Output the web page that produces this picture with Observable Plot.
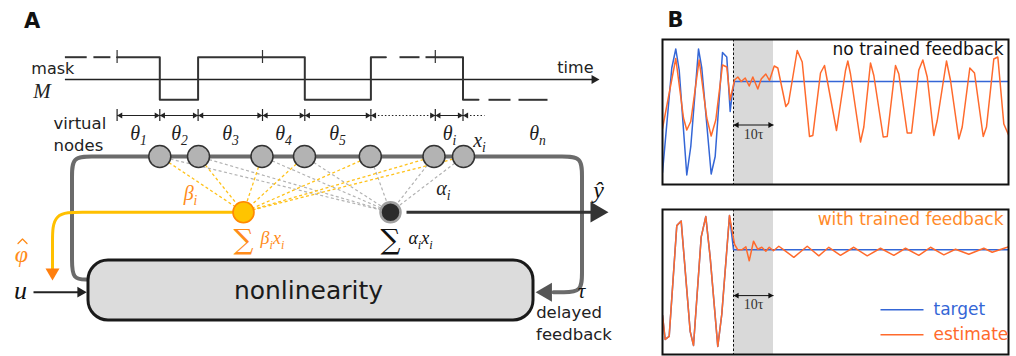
<!DOCTYPE html>
<html><head><meta charset="utf-8">
<script src="https://cdn.jsdelivr.net/npm/d3@7"></script>
<script src="https://cdn.jsdelivr.net/npm/@observablehq/plot@0.6"></script>
<style>
body{margin:0;background:#fff;}
#fig{position:relative;width:1016px;height:356px;overflow:hidden;font-family:"DejaVu Sans",sans-serif;}
#fig svg{position:absolute;overflow:visible;}
</style></head><body><div id="fig"></div>
<script>
// ================= Panel B data =================
// t: time in units of the delay τ (0 = end of training), v: signal relative to the constant target level
const topTarget = [[-17.75,-1.82],[-15.43,0.27],[-14.43,0.65],[-13.58,0.23],[-11.68,-1.87],[-10.68,-1.30],[-8.75,0.65],[-7.93,0.27],[-5.58,-1.85],[-4.58,-1.50],[-2.75,0.58],[-1.68,0.49],[-0.83,-0.60],[-0.25,-0.20],[0.25,0],[68.75,0]];
const topEstimate = [[-17.75,-0.94],[-14.43,0.46],[-12.5,-0.73],[-11.68,-0.97],[-10.68,-0.80],[-8.58,0.43],[-6.68,-0.73],[-5.58,-1.09],[-4.43,-0.77],[-2.75,0.33],[-1.68,0.29],[-0.83,-0.37],[0.25,0.03],[1.08,0.09],[1.93,0],[2.93,0.07],[3.93,-0.09],[4.83,0.09],[6.08,-0.15],[6.93,0.05],[8.08,0.15],[9.0,0.02],[10.18,0.31],[11.08,0.27],[13.08,-0.5],[13.75,-0.43],[15.93,0.62],[17.18,0.39],[19.0,-1.1],[19.83,-1.08],[21.75,0.17],[22.75,0.32],[25.75,-0.98],[28.0,0.22],[28.58,0.41],[29.25,0.15],[31.75,-1.21],[32.58,-0.91],[34.25,0.37],[35.08,0.12],[37.43,-1.11],[38.43,-1.1],[40.5,0.32],[41.33,0.15],[43.43,-1.03],[44.5,-1.03],[46.33,0.23],[47.33,0.43],[48.43,0.09],[50.08,-1.08],[50.93,-0.78],[53.25,0.41],[54.25,0.02],[56.33,-1.15],[57.18,-0.91],[59.08,0.27],[60.25,0.17],[62.43,-1.1],[63.25,-0.91],[65.08,0.45],[66.08,0.49],[67.58,-0.85],[68.83,-1.08]];
const bottomTarget = [[-17.75,-1.3],[-17.08,-1.78],[-16.08,-1.72],[-14.18,0.48],[-13.08,0.57],[-10.83,-1.62],[-10.0,-1.9],[-8.08,0.25],[-6.93,0.66],[-5.83,-0.15],[-3.93,-1.92],[-2.93,-1.28],[-1.0,0.68],[0,0],[68.75,0]];
const bottomEstimate = [[-17.75,-1.3],[-17.08,-1.78],[-16.08,-1.72],[-14.18,0.48],[-13.08,0.57],[-10.83,-1.62],[-10.0,-1.9],[-8.08,0.25],[-6.93,0.66],[-5.83,-0.15],[-3.93,-1.92],[-2.93,-1.28],[-1.0,0.68],[0.25,0.11],[1.08,0],[2.08,0],[3.08,0.06],[3.93,-0.22],[5.0,0.17],[6.08,0.01],[7.08,0.05],[8.08,-0.03],[8.93,0.05],[10.0,-0.02],[11.33,0.07],[12.58,0],[15.08,-0.15],[18.43,0.07],[21.33,-0.12],[23.83,0.05],[26.75,-0.11],[30.08,0.05],[33.43,-0.12],[36.75,0.03],[40.08,-0.11],[43.0,0.03],[46.33,-0.11],[49.25,0.05],[52.58,-0.1],[55.5,0.01],[58.83,-0.09],[62.58,0.03],[64.68,-0.05],[68.43,0.05],[68.75,0.06]];
const shadeWindow = [{start: 0, end: 10, label: "10τ"}];   // 10 delays after training ends
const legendItems = [{name: "target", key: "blue"}, {name: "estimate", key: "orange"}];
const panelTitles = ["no trained feedback", "with trained feedback"];

// ================= Panel A (schematic) geometry =================
const maskSolid = [
  [[116.6,56.7],[159.3,56.7],[159.3,99.3],[197.6,99.3],[197.6,56.7],[304.3,56.7],[304.3,99.3],[370.4,99.3],[370.4,56.7],[385.4,56.7]],
  [[434.8,56.7],[462.5,56.7],[462.5,99.3],[478,99.3]]
];
const maskDashes = [[64.4,86.2,56.7],[92.9,109.9,56.7],[399,419,56.7],[425,434.8,56.7],[488,510,99.3],[518,547,99.3]];
const maskTicks = [116.6, 262, 434.8];
const thetaTicks = [116.6,159.3,197.6,262,304.3,370.4,434.8,462.5];
const thetaLabels = [[138,"θ_1"],[179,"θ_2"],[230,"θ_3"],[283,"θ_4"],[337,"θ_5"],[449,"θ_i"],[537,"θ_n"]];
const nodeX = [159.3,198,261.5,304,369.8,433.5,463];
const loopPath = [[88,279],[71.5,279],[71.5,259],[71.5,239],[71.5,196],[71.5,176],[71.5,156],[91.5,156],[111.5,156],[541.5,156],[561.5,156],[581.5,156],[581.5,176],[581.5,196],[581.5,251.7],[581.5,271.7],[581.5,291.7],[561.5,291.7],[553,291.7]];
const phiPath = [[232,211.7],[112,211.7],[82,211.7],[52,211.7],[52,241.7],[52,268]];
const phiHat = [[17.5,243],[22,238.5],[26.5,243]];
const sumNodes = {beta: [243, 211.7], alpha: [390, 211.7]};
const arrowHeads = [
  {x:593.7, y:79, r:3.4, rotate:90, color:"#222"},
  {x:596, y:211.7, r:7.7, rotate:90, color:"#333"},
  {x:546, y:291.7, r:7, rotate:-90, color:"#555"},
  {x:52, y:272, r:5.2, rotate:180, color:"#ff7f0e"},
  {x:80, y:291.7, r:4, rotate:90, color:"#222"}
];

const SERIF = "Liberation Serif";
const ORANGE_TXT = "#ff8c1a";
const BLUE = "#3466d6", ORANGE = "#ff6a2c";
const HEAD_R = 2.2, HEAD_OFF = 2 * 0.7776 * HEAD_R;   // small double-arrow heads

const spans = d3.pairs(thetaTicks).map(([a,b],i) => ({a, b, dotted: i === 5}));
const maskPts = maskSolid.flatMap((seg,i) => seg.map(p => ({x:p[0], y:p[1], seg:i})));

const fig = document.getElementById("fig");

const A = Plot.plot({
  width: 1016, height: 356, margin: 0,
  x: {type:"linear", domain:[0,1016], range:[0,1016], axis:null},
  y: {type:"linear", domain:[0,356], range:[0,356], axis:null},
  style: {background:"none", overflow:"visible", fontFamily:"DejaVu Sans"},
  marks: [
    // panel letters
    Plot.text(["A"], {x:31.6, y:21, text:d=>d, fontSize:21, fontWeight:"bold", fill:"#111"}),
    Plot.text(["B"], {x:675, y:20, text:d=>d, fontSize:21, fontWeight:"bold", fill:"#111"}),
    // time axis and mask
    Plot.link([[64.4,595]], {x1:d=>d[0], x2:d=>d[1], y1:79, y2:79, stroke:"#222", strokeWidth:1.3}),
    Plot.line(maskPts, {x:"x", y:"y", z:"seg", stroke:"#333", strokeWidth:2}),
    Plot.link(maskDashes, {x1:d=>d[0], x2:d=>d[1], y1:d=>d[2], y2:d=>d[2], stroke:"#333", strokeWidth:2}),
    Plot.ruleX(maskTicks, {x:d=>d, y1:50, y2:63, stroke:"#333", strokeWidth:1.2}),
    // theta spacing arrows
    Plot.ruleX(thetaTicks, {x:d=>d, y1:109, y2:121, stroke:"#222", strokeWidth:1.2}),
    Plot.link(spans.filter(d=>!d.dotted), {x1:"a", x2:"b", y1:115, y2:115, stroke:"#222", strokeWidth:1}),
    Plot.link(spans.filter(d=>d.dotted), {x1:"a", x2:"b", y1:115, y2:115, stroke:"#222", strokeWidth:1, strokeDasharray:"1.5,2"}),
    Plot.link([[462.5,484]], {x1:d=>d[0], x2:d=>d[1], y1:115, y2:115, stroke:"#222", strokeWidth:1, strokeDasharray:"1.5,2"}),
    Plot.dot(spans, {x:"a", y:115, dx:HEAD_OFF, r:HEAD_R, rotate:-90, symbol:"triangle", fill:"#222"}),
    Plot.dot(spans, {x:"b", y:115, dx:-HEAD_OFF, r:HEAD_R, rotate:90, symbol:"triangle", fill:"#222"}),
    Plot.dot([462.5], {x:d=>d, y:115, dx:HEAD_OFF, r:HEAD_R, rotate:-90, symbol:"triangle", fill:"#222"}),
    // text labels
    Plot.text(["mask"], {x:30.8, y:68, text:d=>d, textAnchor:"start", fontSize:16, fill:"#222"}),
    Plot.text(["M"], {x:41.5, y:91, text:d=>d, fontSize:21, fontStyle:"italic", fontFamily:SERIF, fill:"#222"}),
    Plot.text(["time"], {x:593, y:67, text:d=>d, textAnchor:"end", fontSize:16, fill:"#222"}),
    Plot.text(["virtual","nodes"], {x:53, y:(d,i)=>[123.5,145][i], text:d=>d, textAnchor:"start", fontSize:16.5, fill:"#222"}),
    Plot.text(thetaLabels, {x:d=>d[0], y:133, text:d=>d[1], fontSize:20, fontStyle:"italic", fontFamily:SERIF, fill:"#222"}),
    Plot.text(["x_i"], {x:479, y:140, text:d=>d, fontSize:20, fontStyle:"italic", fontFamily:SERIF, fill:"#222"}),
    // feedback loop
    Plot.line(loopPath, {curve:"basis", stroke:"#6b6b6b", strokeWidth:4}),
    // dashed readout connections
    Plot.link(nodeX, {x1:d=>d, y1:156, x2:sumNodes.alpha[0], y2:sumNodes.alpha[1], stroke:"#b3b3b3", strokeWidth:1.2, strokeDasharray:"3,2.5"}),
    Plot.link(nodeX, {x1:d=>d, y1:156, x2:sumNodes.beta[0], y2:sumNodes.beta[1], stroke:"#ffc21a", strokeWidth:1.3, strokeDasharray:"3,2.5"}),
    Plot.dot(nodeX, {x:d=>d, y:156, r:11, fill:"#b3b3b3", stroke:"#333", strokeWidth:1.5}),
    // trained feedback path
    Plot.line(phiPath, {curve:"basis", stroke:"#ffc000", strokeWidth:3}),
    // output arrow
    Plot.link([[406,594]], {x1:d=>d[0], x2:d=>d[1], y1:211.7, y2:211.7, stroke:"#333", strokeWidth:3}),
    Plot.dot([sumNodes.beta], {x:d=>d[0], y:d=>d[1], r:10.5, fill:"#ffc400", stroke:"#ff8800", strokeWidth:1.6}),
    Plot.dot([sumNodes.alpha], {x:d=>d[0], y:d=>d[1], r:10, fill:"#2b2b2b", stroke:"#a0a0a0", strokeWidth:2.5}),
    // nonlinearity box
    Plot.rect([{x1:88,x2:533,y1:260,y2:320}], {x1:"x1", x2:"x2", y1:"y1", y2:"y2", rx:20, ry:20, fill:"#dcdcdc", stroke:"#1a1a1a", strokeWidth:3}),
    Plot.text(["nonlinearity"], {x:308, y:290, text:d=>d, fontSize:25, fill:"#1a1a1a"}),
    // input arrow
    Plot.link([[33,80]], {x1:d=>d[0], x2:d=>d[1], y1:291.7, y2:291.7, stroke:"#222", strokeWidth:2}),
    ...arrowHeads.map(h => Plot.dot([h], {x:"x", y:"y", r:h.r, rotate:h.rotate, fill:h.color, symbol:"triangle"})),
    // math labels
    Plot.text(["β_i"], {x:190, y:193, text:d=>d, fontSize:20, fontStyle:"italic", fontFamily:SERIF, fill:ORANGE_TXT}),
    Plot.text(["α_i"], {x:443, y:188, text:d=>d, fontSize:20, fontStyle:"italic", fontFamily:SERIF, fill:"#222"}),
    Plot.text(["∑"], {x:243, y:240, text:d=>d, fontSize:28, fontFamily:"DejaVu Serif", fill:ORANGE_TXT}),
    Plot.text(["β_ix_i"], {x:272, y:238, text:d=>d, fontSize:18, fontStyle:"italic", fontFamily:SERIF, fill:ORANGE_TXT}),
    Plot.text(["∑"], {x:390, y:240, text:d=>d, fontSize:28, fontFamily:"DejaVu Serif", fill:"#111"}),
    Plot.text(["α_ix_i"], {x:420, y:238, text:d=>d, fontSize:18, fontStyle:"italic", fontFamily:SERIF, fill:"#111"}),
    Plot.text(["ŷ"], {x:598, y:190, text:d=>d, fontSize:24, fontStyle:"italic", fontFamily:SERIF, fill:"#111"}),
    Plot.text(["φ"], {x:21, y:254, text:d=>d, fontSize:24, fontStyle:"italic", fontFamily:SERIF, fill:ORANGE_TXT}),
    Plot.line(phiHat, {stroke:ORANGE_TXT, strokeWidth:1.3}),
    Plot.text(["u"], {x:20, y:290, text:d=>d, fontSize:26, fontStyle:"italic", fontFamily:SERIF, fill:"#111"}),
    Plot.text(["τ"], {x:581, y:291, text:d=>d, fontSize:21, fontStyle:"italic", fontFamily:SERIF, fill:"#111"}),
    Plot.text(["delayed","feedback"], {x:(d,i)=>[568.5,573.5][i], y:(d,i)=>[312.5,334][i], text:d=>d, fontSize:16.5, fill:"#222"})
  ]
});

// turn "a_b" into subscripted tspans
function mathify(svg) {
  const NS = "http://www.w3.org/2000/svg";
  svg.querySelectorAll("text").forEach(t => {
    const s = t.textContent;
    if (!s.includes("_")) return;
    t.textContent = "";
    let i = 0, sub = false;
    while (i < s.length) {
      const ts = document.createElementNS(NS, "tspan");
      if (s[i] === "_") {
        ts.setAttribute("font-size", "68%");
        ts.setAttribute("dy", "5");
        ts.textContent = s[i+1];
        i += 2; sub = true;
      } else {
        if (sub) { ts.setAttribute("dy", "-5"); sub = false; }
        ts.textContent = s[i]; i++;
      }
      t.appendChild(ts);
    }
  });
}
mathify(A);
A.style.left = "0px"; A.style.top = "0px";
fig.appendChild(A);

function panelB({target, estimate, title, titleColor, yDomain, arrowV, labelV, legend}) {
  const marks = [
    Plot.rect(shadeWindow, {x1:"start", x2:"end", fill:"#d9d9d9"}),
    Plot.ruleX(shadeWindow, {x:"start", stroke:"#111", strokeWidth:1, strokeDasharray:"2.5,2"}),
    Plot.line(target, {stroke:BLUE, strokeWidth:1.5, clip:true}),
    Plot.line(estimate, {stroke:ORANGE, strokeWidth:1.5, clip:true}),
    Plot.link(shadeWindow, {x1:"start", x2:"end", y1:arrowV, y2:arrowV, stroke:"#111", strokeWidth:1}),
    Plot.dot(shadeWindow, {x:"start", y:arrowV, dx:HEAD_OFF, r:HEAD_R, rotate:-90, symbol:"triangle", fill:"#111"}),
    Plot.dot(shadeWindow, {x:"end", y:arrowV, dx:-HEAD_OFF, r:HEAD_R, rotate:90, symbol:"triangle", fill:"#111"}),
    Plot.text(shadeWindow, {x:d=>(d.start+d.end)/2, y:labelV, text:"label", fontSize:14, fontFamily:SERIF, fill:"#333"}),
    Plot.text([title], {frameAnchor:"top-right", text:d=>d, dx:-5, dy:10, textAnchor:"end", lineAnchor:"middle", fontSize:17, fill:titleColor}),
    Plot.frame({stroke:"#111", strokeWidth:2})
  ];
  if (legend) {
    marks.push(
      Plot.link(legendItems, {x1:36.75, x2:47.5, y1:(d,i)=>[-1.19,-1.69][i], y2:(d,i)=>[-1.19,-1.69][i], stroke:d=>d.key==="blue"?BLUE:ORANGE, strokeWidth:1.5}),
      Plot.text(legendItems, {x:50, y:(d,i)=>[-1.19,-1.69][i], text:"name", textAnchor:"start", fontSize:17, fill:d=>d.key==="blue"?BLUE:ORANGE})
    );
  }
  return Plot.plot({
    width: 350, height: 149, margin: 2,
    x: {domain:[-17.75, 68.75], axis:null},
    y: {domain:yDomain, axis:null},
    style: {background:"none", overflow:"visible", fontFamily:"DejaVu Sans"},
    marks
  });
}

const B1 = panelB({target: topTarget, estimate: topEstimate, title: panelTitles[0], titleColor:"#111", yDomain:[-2.06,0.84], arrowV:-0.87, labelV:-1.06, legend:false});
B1.style.left = "660px"; B1.style.top = "37px";
fig.appendChild(B1);
const B2 = panelB({target: bottomTarget, estimate: bottomEstimate, title: panelTitles[1], titleColor:"#ff8a2a", yDomain:[-2.08,0.8], arrowV:-0.91, labelV:-1.08, legend:true});
B2.style.left = "660px"; B2.style.top = "207px";
fig.appendChild(B2);
</script></body></html>
